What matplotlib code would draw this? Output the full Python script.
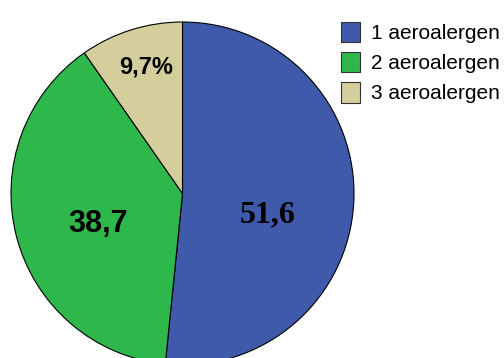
import numpy as np
import matplotlib
matplotlib.use('Agg')
import matplotlib.pyplot as plt

# data
categories = ['1 aeroalergen', '2 aeroalergen', '3 aeroalergen']
values = [51.6, 38.7, 9.7]
value_labels = ['51,6', '38,7', '9,7%']
colors = ['#3F59AB', '#2EB84B', '#D3CE9B']

W, H = 504, 358
fig = plt.figure(figsize=(W / 100, H / 100), dpi=100)
ax = fig.add_axes([0, 0, 1, 1])

cx, cy, r = 182.5, H - 193.5, 171.5
wedges, _ = ax.pie(values, colors=colors, startangle=90, counterclock=False,
                   center=(cx, cy), radius=r, frame=True,
                   wedgeprops=dict(edgecolor='black', linewidth=0.8))
ax.set_xlim(0, W)
ax.set_ylim(0, H)
ax.set_aspect('equal')
ax.axis('off')

# label placement: (distance as fraction of radius, angle shift in degrees)
label_pos = [(0.51, -11.0), (0.525, 5.0), (0.77, -1.5)]
fonts = [dict(family='Liberation Serif', fontsize=23),
         dict(family='Liberation Sans', fontsize=22),
         dict(family='Liberation Sans', fontsize=17)]
for w, lab, (d, shift), fk in zip(wedges, value_labels, label_pos, fonts):
    mid = np.deg2rad((w.theta1 + w.theta2) / 2 + shift)
    ax.text(cx + d * r * np.cos(mid), cy + d * r * np.sin(mid), lab,
            ha='center', va='center', fontweight='bold', color='black', **fk)

leg = fig.legend(wedges, categories, loc='upper left',
                 bbox_to_anchor=(326 / W, 1 - 7 / H), frameon=False,
                 prop=dict(family='Liberation Sans', size=15),
                 handlelength=0.95, handleheight=1.15, handletextpad=0.5,
                 labelspacing=0.42, borderpad=0.2)
for h in leg.legend_handles:
    h.set_linewidth(0.8)
    h.set_edgecolor('#333333')

fig.savefig('out.png', dpi=100)
